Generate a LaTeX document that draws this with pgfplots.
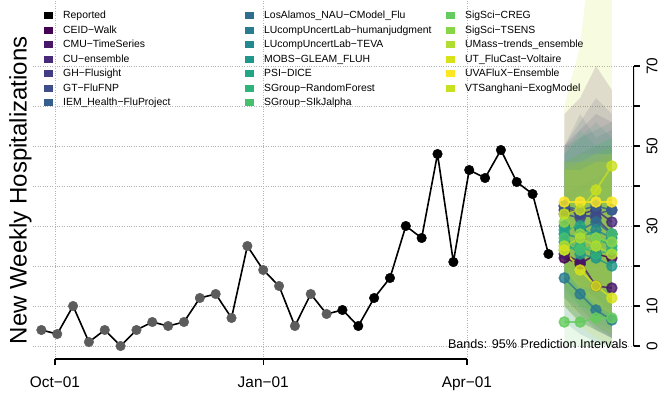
\documentclass[border=0pt]{standalone}
\usepackage{pgfplots}
\pgfplotsset{compat=1.18}
\usepackage{fontspec}
\setmainfont{Liberation Sans}
\definecolor{c01}{HTML}{440154}
\definecolor{c02}{HTML}{481769}
\definecolor{c03}{HTML}{472A7A}
\definecolor{c04}{HTML}{433D84}
\definecolor{c05}{HTML}{3D4E8A}
\definecolor{c06}{HTML}{355E8D}
\definecolor{c07}{HTML}{2E6D8E}
\definecolor{c08}{HTML}{297B8E}
\definecolor{c09}{HTML}{23898E}
\definecolor{c10}{HTML}{1F978B}
\definecolor{c11}{HTML}{21A585}
\definecolor{c12}{HTML}{2EB37C}
\definecolor{c13}{HTML}{46C06F}
\definecolor{c14}{HTML}{65CB5E}
\definecolor{c15}{HTML}{89D548}
\definecolor{c16}{HTML}{B0DD2F}
\definecolor{c17}{HTML}{D8E219}
\definecolor{c18}{HTML}{FDE725}
\definecolor{c19}{HTML}{C8E020}
\definecolor{ptgray}{HTML}{5C5C5C}
\newcommand{\LE}[1]{\makebox[192pt][l]{\hspace{10pt}\rule[-2.6pt]{0pt}{10.5pt}#1}}
\pgfplotsset{
  fc/.style={color=#1, line width=1.6pt, mark=*, mark size=5pt, opacity=0.8},
  band/.style={fill=#1, fill opacity=0.14, draw=none, forget plot},
}
\begin{document}
\begin{tikzpicture}
\begin{axis}[
  scale only axis, width=601pt, height=359pt,
  xmin=-9.7, xmax=255.8, ymin=-3.25, ymax=86.5,
  axis x line*=bottom, axis y line*=right,
  axis line style={draw=none},
  xtick={0,92,182}, xticklabels={Oct−01,Jan−01,Apr−01},
  ytick={0,10,20,30,40,50,60,70}, yticklabels={0,10,,30,,50,,70},
  grid=major, grid style={dotted, line width=0.8pt, black!30},
  tick align=outside, major tick length=5.5pt,
  tick style={black, line width=1.4pt},
  /pgf/number format/assume math mode=true,
  ticklabel style={font=\fontsize{15.4}{18}\selectfont},
  xticklabel style={anchor=north, inner sep=0pt, yshift=-12pt},
  yticklabel style={rotate=90, anchor=north, inner sep=0pt},
  yticklabel shift=7pt,
  every axis y label/.style={at={(axis description cs:-0.021,0.47)}, rotate=90, anchor=center},
  ylabel={New Weekly Hospitalizations},
  label style={font=\fontsize{24}{28}\selectfont},
  legend columns=7, transpose legend,
  legend image code/.code={\fill[#1, draw=none, opacity=1] (0pt,-3.5pt) rectangle (9pt,3.5pt);},
  legend style={at={(axis description cs:0.0183,0.970)}, anchor=north west, draw=none, fill=none,
    font=\fontsize{10.4}{12}\selectfont, inner sep=0pt, row sep=5.1pt, nodes={inner sep=0pt}},
  legend cell align=left,
]
% prediction bands (lower ... upper)
\addplot[band=c01] coordinates {(225,10) (232,6) (239,4) (246,2) (246,64) (239,70) (232,62) (225,58)} -- cycle;
\addplot[band=c02] coordinates {(225,12) (232,8) (239,4) (246,2) (246,48) (239,46) (232,46) (225,44)} -- cycle;
\addplot[band=c03] coordinates {(225,20) (232,15) (239,12) (246,8) (246,56) (239,58) (232,54) (225,50)} -- cycle;
\addplot[band=c04] coordinates {(225,22) (232,16) (239,12) (246,10) (246,50) (239,50) (232,48) (225,46)} -- cycle;
\addplot[band=c05] coordinates {(225,18) (232,12) (239,8) (246,6) (246,58) (239,62) (232,56) (225,50)} -- cycle;
\addplot[band=c06] coordinates {(225,15) (232,10) (239,5) (246,2) (246,54) (239,52) (232,58) (225,50)} -- cycle;
\addplot[band=c07] coordinates {(225,12) (232,8) (239,5) (246,3) (246,56) (239,54) (232,52) (225,50)} -- cycle;
\addplot[band=c08] coordinates {(225,6) (232,3) (239,1) (246,0) (246,44) (239,42) (232,40) (225,38)} -- cycle;
\addplot[band=c09] coordinates {(225,10) (232,6) (239,4) (246,2) (246,52) (239,56) (232,52) (225,48)} -- cycle;
\addplot[band=c10] coordinates {(225,14) (232,10) (239,8) (246,6) (246,50) (239,48) (232,46) (225,46)} -- cycle;
\addplot[band=c11] coordinates {(225,12) (232,9) (239,6) (246,4) (246,52) (239,50) (232,54) (225,48)} -- cycle;
\addplot[band=c12] coordinates {(225,12) (232,10) (239,8) (246,6) (246,48) (239,46) (232,46) (225,44)} -- cycle;
\addplot[band=c13] coordinates {(225,10) (232,6) (239,4) (246,3) (246,52) (239,50) (232,48) (225,46)} -- cycle;
\addplot[band=c14] coordinates {(225,0) (232,0) (239,0) (246,0) (246,44) (239,40) (232,38) (225,36)} -- cycle;
\addplot[band=c15] coordinates {(225,16) (232,12) (239,9) (246,6) (246,50) (239,48) (232,48) (225,46)} -- cycle;
\addplot[band=c16] coordinates {(225,10) (232,8) (239,5) (246,3) (246,48) (239,46) (232,46) (225,44)} -- cycle;
\addplot[band=c17] coordinates {(225,10) (232,5) (239,2) (246,0) (246,46) (239,46) (232,44) (225,44)} -- cycle;
\addplot[band=c18] coordinates {(225,20) (232,14) (239,10) (246,8) (246,48) (239,48) (232,46) (225,46)} -- cycle;
\addplot[band=c19] coordinates {(225,18) (232,15) (239,14) (246,14) (246,130) (239,110) (232,75) (225,60)} -- cycle;
% reported
\addplot[black, line width=1.6pt] table {
x y
-6 4
1 3
8 10
15 1
22 4
29 0
36 4
43 6
50 5
57 6
64 12
71 13
78 7
85 25
92 19
99 15
106 5
113 13
120 8
127 9
134 5
141 12
148 17
155 30
162 27
169 48
176 21
183 44
190 42
197 49
204 41
211 38
218 23
};
\addlegendentry{\LE{Reported}}
\addplot[only marks, mark=*, mark size=4.8pt, color=ptgray, forget plot] table {
x y
-6 4
1 3
8 10
15 1
22 4
29 0
36 4
43 6
50 5
57 6
64 12
71 13
78 7
85 25
92 19
99 15
106 5
113 13
120 8
};
\addplot[only marks, mark=*, mark size=4.8pt, color=black, forget plot] table {
x y
127 9
134 5
141 12
148 17
155 30
162 27
169 48
176 21
183 44
190 42
197 49
204 41
211 38
218 23
};
% forecasts
\addplot[fc=c01] coordinates {(225,22) (232,20.5) (239,23) (246,22)}; \addlegendentry{\LE{CEID−Walk}}
\addplot[fc=c02] coordinates {(225,23) (232,21) (239,15) (246,14.5)}; \addlegendentry{\LE{CMU−TimeSeries}}
\addplot[fc=c03] coordinates {(225,34) (232,33) (239,34) (246,31)}; \addlegendentry{\LE{CU−ensemble}}
\addplot[fc=c04] coordinates {(225,35) (232,33) (239,32) (246,28)}; \addlegendentry{\LE{GH−Flusight}}
\addplot[fc=c05] coordinates {(225,33) (232,32) (239,33) (246,34)}; \addlegendentry{\LE{GT−FluFNP}}
\addplot[fc=c06] coordinates {(225,35) (232,34) (239,35) (246,34)}; \addlegendentry{\LE{IEM\_Health−FluProject}}
\addplot[fc=c07] coordinates {(225,30) (232,29) (239,31) (246,28)}; \addlegendentry{\LE{LosAlamos\_NAU−CModel\_Flu}}
\addplot[fc=c08] coordinates {(225,17) (232,13) (239,9) (246,6.5)}; \addlegendentry{\LE{LUcompUncertLab−humanjudgment}}
\addplot[fc=c09] coordinates {(225,28) (232,27) (239,29) (246,27)}; \addlegendentry{\LE{LUcompUncertLab−TEVA}}
\addplot[fc=c10] coordinates {(225,26) (232,23) (239,22) (246,20)}; \addlegendentry{\LE{MOBS−GLEAM\_FLUH}}
\addplot[fc=c11] coordinates {(225,29) (232,30) (239,27) (246,25)}; \addlegendentry{\LE{PSI−DICE}}
\addplot[fc=c12] coordinates {(225,24) (232,25) (239,23) (246,24)}; \addlegendentry{\LE{SGroup−RandomForest}}
\addplot[fc=c13] coordinates {(225,27) (232,24) (239,25) (246,28)}; \addlegendentry{\LE{SGroup−SIkJalpha}}
\addplot[fc=c14] coordinates {(225,6) (232,6) (239,7) (246,7)}; \addlegendentry{\LE{SigSci−CREG}}
\addplot[fc=c15] coordinates {(225,31) (232,28) (239,27) (246,26)}; \addlegendentry{\LE{SigSci−TSENS}}
\addplot[fc=c16] coordinates {(225,25) (232,27) (239,25) (246,23)}; \addlegendentry{\LE{UMass−trends\_ensemble}}
\addplot[fc=c17] coordinates {(225,24) (232,19) (239,15) (246,12)}; \addlegendentry{\LE{UT\_FluCast−Voltaire}}
\addplot[fc=c18] coordinates {(225,36) (232,36) (239,36) (246,36)}; \addlegendentry{\LE{UVAFluX−Ensemble}}
\addplot[fc=c19] coordinates {(225,33) (232,34) (239,39) (246,45)}; \addlegendentry{\LE{VTSanghani−ExogModel}}
% R-style axis lines
\draw[line width=1.4pt] (axis cs:0,-3.25) -- (axis cs:182,-3.25);
\draw[line width=1.4pt] (axis cs:255.8,0) -- (axis cs:255.8,70);
\node[anchor=base east, inner sep=0pt, font=\fontsize{12.6}{14}\selectfont] at (rel axis cs:0.990,0.0292) {Bands: 95\% Prediction Intervals};
\end{axis}
\pgfresetboundingbox
\path (-33pt,-35pt) rectangle (625pt,359pt);
\end{tikzpicture}
\end{document}
